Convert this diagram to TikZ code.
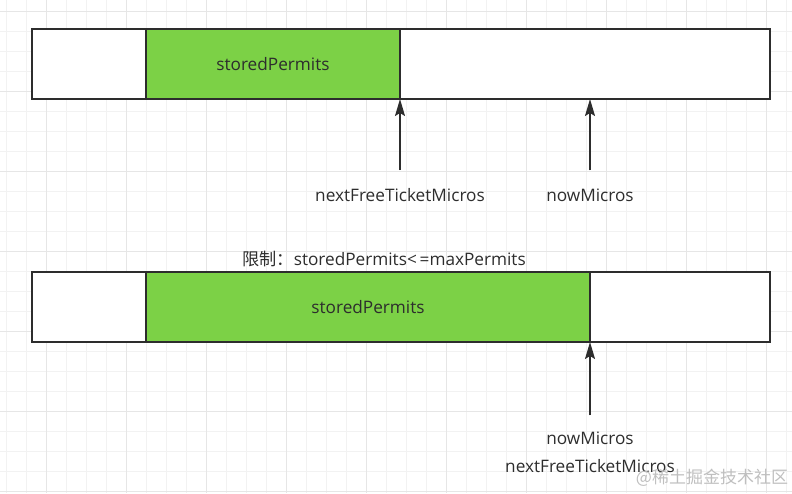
\documentclass[tikz,border=0pt]{standalone}
\usepackage{fontspec}
\setmainfont{Open Sans}
\newfontfamily\cjk{Noto Sans CJK SC}
\usetikzlibrary{arrows.meta, positioning, calc}

\definecolor{permitgreen}{RGB}{124,209,70}
\definecolor{edgegray}{RGB}{45,45,45}
\definecolor{txtgray}{RGB}{45,45,45}
\definecolor{gridminor}{RGB}{242,242,242}
\definecolor{gridmajor}{RGB}{230,230,230}

\begin{document}
\begin{tikzpicture}[
  x=1pt, y=-1pt,
  font=\fontsize{17.2}{20}\selectfont,
  cell/.style={rectangle, draw=edgegray, line width=1.3pt, fill=white, minimum height=70pt, inner sep=0pt, outer sep=0pt, text=txtgray},
  permitcell/.style={cell, fill=permitgreen},
  lbl/.style={text=txtgray, inner sep=1pt},
  ptr/.style={-{Stealth[length=17pt, width=10pt, inset=3pt]}, line width=1.6pt, edgegray}
]
\useasboundingbox (0,0) rectangle (792,493);

% grid
\foreach \gx in {6,26,...,786} \draw[gridminor, line width=0.8pt] (\gx,0) -- (\gx,493);
\foreach \gy in {11,31,...,491} \draw[gridminor, line width=0.8pt] (0,\gy) -- (792,\gy);
\foreach \gx in {46,126,...,766} \draw[gridmajor, line width=0.9pt] (\gx,0) -- (\gx,493);
\foreach \gy in {11,91,...,491} \draw[gridmajor, line width=0.9pt] (0,\gy) -- (792,\gy);

% First state
\node[cell, minimum width=114pt, anchor=north west] (top_free) at (32,29) {};
\node[permitcell, minimum width=254pt, right=0pt of top_free] (top_stored) {storedPermits};
\node[cell, minimum width=370pt, right=0pt of top_stored] (top_rest) {};

\node[lbl] (top_next_lbl) at (400,195) {nextFreeTicketMicros};
\node[lbl] (top_now_lbl) at (590,195) {nowMicros};

\draw[ptr] ([yshift=17pt]top_next_lbl.north) -- (top_stored.south east);
\draw[ptr] ([yshift=17pt]top_now_lbl.north) -- (top_rest.south west -| top_now_lbl);

% Second state
\node[lbl] (limit_lbl) at (384,259) {{\cjk 限制：}storedPermits<\,=maxPermits};

\node[cell, minimum width=114pt, anchor=north west] (bot_free) at (32,272) {};
\node[permitcell, minimum width=444pt, right=0pt of bot_free] (bot_stored) {storedPermits};
\node[cell, minimum width=180pt, right=0pt of bot_stored] (bot_rest) {};

\node[lbl] (bot_now_lbl) at (590,438) {nowMicros};
\node[lbl] (bot_next_lbl) at (590,466) {nextFreeTicketMicros};

\draw[ptr] ([yshift=15pt]bot_now_lbl.north) -- (bot_stored.south east);

% watermark
\node[text=black!25, font=\cjk\fontsize{17}{20}\selectfont, inner sep=0pt] (mark) at (712,478) {@稀土掘金技术社区};

\end{tikzpicture}
\end{document}
